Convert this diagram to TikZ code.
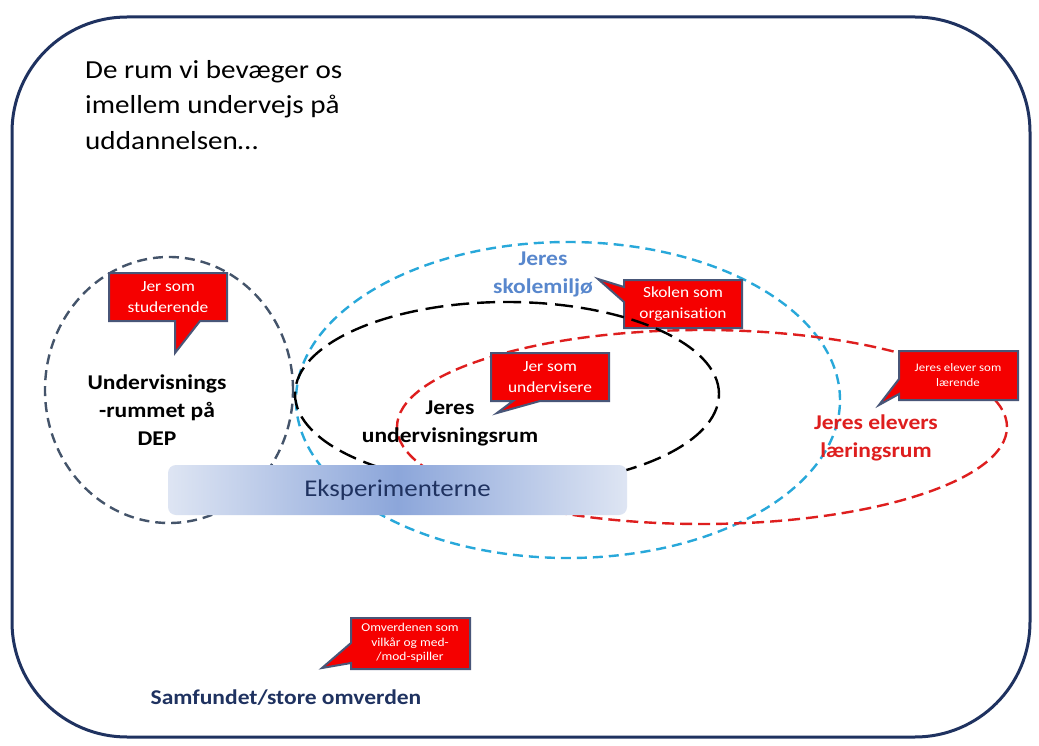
\documentclass[tikz,border=0pt]{standalone}
\usepackage{fontspec}
\setmainfont{Carlito}[FakeStretch=1.12,Ligatures=NoCommon]
\definecolor{navy}{RGB}{31,50,96}
\definecolor{slate}{RGB}{68,84,106}
\definecolor{cyanl}{RGB}{40,168,218}
\definecolor{redl}{RGB}{222,30,30}
\definecolor{calred}{RGB}{245,0,0}
\definecolor{calborder}{RGB}{72,86,120}
\definecolor{skoleblue}{RGB}{88,135,205}
\definecolor{boxlight}{RGB}{222,229,243}
\definecolor{boxdark}{RGB}{140,166,218}
\begin{document}
\begin{tikzpicture}[x=1pt,y=-1pt,
  callout/.style={fill=calred,draw=calborder,line width=2pt,line join=miter},
  caltext/.style={text=white,align=center,font=\fontsize{15.5}{21}\selectfont,inner sep=0pt},
  calsmall/.style={text=white,align=center,font=\fontsize{11.5}{15}\selectfont,inner sep=0pt},
  biglabel/.style={align=center,font=\fontsize{21}{28}\selectfont\bfseries,inner sep=0pt},
  dashA/.style={line width=2.4pt,dash pattern=on 10pt off 6pt},
  dashB/.style={line width=2.4pt,dash pattern=on 18pt off 8pt}]
\useasboundingbox (0,0) rectangle (1039,746);
\fill[white] (0,0) rectangle (1039,746);
% outer frame
\draw[navy,line width=3pt,rounded corners=115pt] (12,17) rectangle (1030,737);
% title
\node[anchor=north west,align=left,inner sep=0pt,font=\fontsize{26}{35.5}\selectfont] (title) at (85,60) {De rum vi bevæger os\\imellem undervejs på\\uddannelsen…};
% ellipses
\draw[slate,dashA] (169,390) ellipse [x radius=124pt,y radius=133pt];
\draw[cyanl,dashA] (568,400) ellipse [x radius=272pt,y radius=158pt];
\draw[redl,line width=2.4pt,dash pattern=on 12pt off 6pt] (702,427) ellipse [x radius=305pt,y radius=97pt];
% callout Skolen (behind black ellipse)
\draw[callout] (624,280) -- (742,280) -- (742,328) -- (624,328) -- (624,302) -- (598,279) -- (624,287) -- cycle;
\node[caltext] (skolen) at (683,304) {Skolen som\\organisation};
\draw[black,dashB] (507,394) ellipse [x radius=212pt,y radius=92pt];
% Eksperimenterne box
\node[rounded corners=8pt,left color=boxlight,right color=boxlight,middle color=boxdark,
  minimum width=459pt,minimum height=50pt,inner sep=0pt,text=navy,font=\fontsize{24}{28}\selectfont] (eks) at (397.5,490) {Eksperimenterne};
% callouts
\draw[callout] (109,273) -- (227,273) -- (227,321) -- (200,321) -- (175,353) -- (175,321) -- (109,321) -- cycle;
\node[caltext] (stud) at (168,297) {Jer som\\studerende};
\draw[callout] (491,353) -- (609,353) -- (609,401) -- (540,401) -- (497,413) -- (513,401) -- (491,401) -- cycle;
\node[caltext] (underv) at (550,377) {Jer som\\undervisere};
\draw[callout] (899,351) -- (1018,351) -- (1018,400) -- (899,400) -- (899,394) -- (879,405) -- (899,379) -- cycle;
\node[calsmall] (elevsom) at (958,375) {Jeres elever som\\lærende};
\draw[callout] (351,618) -- (470,618) -- (470,669) -- (351,669) -- (351,663) -- (322,668) -- (351,643) -- cycle;
\node[text=white,align=center,font=\fontsize{12}{14.5}\selectfont,inner sep=0pt] (omv) at (410,643) {Omverdenen som\\vilkår og med-\\/mod-spiller};
% labels
\node[biglabel] (dep) at (157,410) {Undervisnings\\-rummet på\\DEP};
\node[biglabel,text=skoleblue] (skole) at (543,274) {Jeres\\skolemiljø};
\node[biglabel] (urum) at (450,423) {Jeres\\undervisningsrum};
\node[biglabel,text=redl] (elev) at (876,438) {Jeres elevers\\læringsrum};
\node[biglabel,text=navy] (samf) at (286,698) {Samfundet/store omverden};
\end{tikzpicture}
\end{document}
